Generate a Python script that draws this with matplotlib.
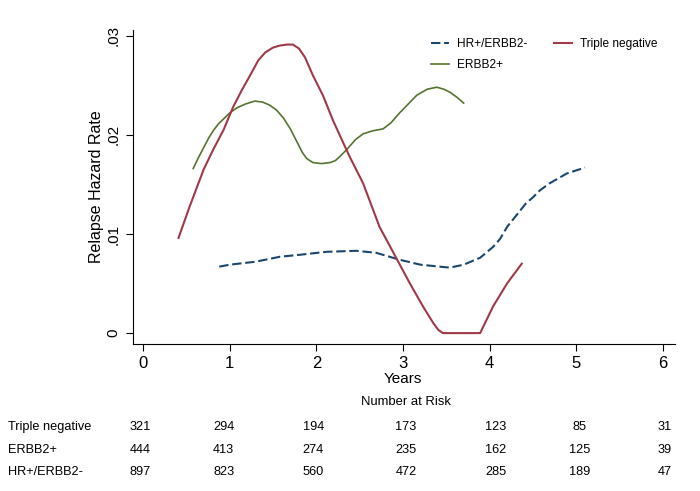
import numpy as np
import matplotlib
matplotlib.use("Agg")
import matplotlib.pyplot as plt
from matplotlib.transforms import blended_transform_factory, ScaledTranslation

plt.rcParams['font.family'] = ['Liberation Sans', 'DejaVu Sans']

# smoothed hazard curves
hr_years = [0.88, 1.00, 1.30, 1.58, 1.81, 2.12, 2.46, 2.69, 2.96, 3.20, 3.54, 3.70, 3.89, 4.04, 4.12, 4.20,
            4.31, 4.42, 4.50, 4.58, 4.69, 4.89, 5.10]
hr_rate = [0.0067, 0.0069, 0.0072, 0.0077, 0.0079, 0.0082, 0.0083, 0.0081, 0.0074, 0.0069, 0.0066, 0.0069,
           0.0076, 0.0087, 0.0095, 0.0107, 0.0119, 0.0131, 0.0137, 0.0144, 0.0151, 0.0161, 0.0167]

erbb2_years = [0.58, 0.64, 0.70, 0.76, 0.81, 0.87, 0.93, 1.00, 1.08, 1.18, 1.29, 1.38, 1.46, 1.54, 1.62, 1.70,
               1.77, 1.84, 1.89, 1.96, 2.06, 2.16, 2.22, 2.27, 2.35, 2.45, 2.54, 2.65, 2.77, 2.86, 2.96, 3.06,
               3.16, 3.28, 3.39, 3.47, 3.54, 3.62, 3.70]
erbb2_rate = [0.0166, 0.0177, 0.0187, 0.0197, 0.0204, 0.0211, 0.0216, 0.0222, 0.0227, 0.0231, 0.0234, 0.0233,
              0.0230, 0.0225, 0.0217, 0.0206, 0.0194, 0.0182, 0.0176, 0.0172, 0.0171, 0.0172, 0.0174, 0.0178,
              0.0185, 0.0195, 0.0201, 0.0204, 0.0206, 0.0212, 0.0222, 0.0231, 0.0240, 0.0246, 0.0248, 0.0246,
              0.0243, 0.0238, 0.0232]

tn_years = [0.41, 0.54, 0.70, 0.81, 0.93, 1.04, 1.14, 1.23, 1.33, 1.41, 1.50, 1.58, 1.66, 1.73, 1.80, 1.87,
            1.96, 2.08, 2.19, 2.31, 2.39, 2.54, 2.73, 2.89, 3.08, 3.23, 3.35, 3.41, 3.46, 3.89, 4.04, 4.20, 4.37]
tn_rate = [0.0096, 0.0128, 0.0165, 0.0185, 0.0205, 0.0228, 0.0245, 0.0259, 0.0275, 0.0283, 0.0288, 0.0290,
           0.0291, 0.0291, 0.0287, 0.0278, 0.0260, 0.0239, 0.0215, 0.0192, 0.0177, 0.0151, 0.0107, 0.0081,
           0.0050, 0.0027, 0.0010, 0.0003, 0.0000, 0.0000, 0.0027, 0.0050, 0.0070]

# number at risk table
risk_times = [0, 1, 2, 3, 4, 5, 6]
risk_groups = ["Triple negative", "ERBB2+", "HR+/ERBB2-"]
risk_tn = [321, 294, 194, 173, 123, 85, 31]
risk_erbb2 = [444, 413, 274, 235, 162, 125, 39]
risk_hr = [897, 823, 560, 472, 285, 189, 47]

# small pixel nudges of the table columns relative to the ticks (layout only)
col_nudge_px = [-3, -6, -3, 3, 6, 3, 2]
row_y_px = [427, 450, 472]

navy = "#1a476f"
green = "#55752f"
maroon = "#a03a48"

fig = plt.figure(figsize=(7, 4.91), dpi=100)
ax = fig.add_axes([133 / 700, 1 - 344 / 491, 542 / 700, 314 / 491])

ax.plot(hr_years, hr_rate, color=navy, lw=1.5, dashes=(4.5, 1.8), label="HR+/ERBB2-")
ax.plot(erbb2_years, erbb2_rate, color=green, lw=1.2, label="ERBB2+")
ax.plot(tn_years, tn_rate, color=maroon, lw=1.5, label="Triple negative")

ax.set_xlim(-0.115, 6.138)
ax.set_ylim(-0.0011, 0.03057)
ax.set_xticks(risk_times)
ax.set_xticklabels([str(t) for t in risk_times], fontsize=12)
ax.set_yticks([0, 0.01, 0.02, 0.03])
ax.set_yticklabels(["0", ".01", ".02", ".03"], fontsize=11, rotation=90, va="center")
for s in ["top", "right"]:
    ax.spines[s].set_visible(False)
ax.tick_params(direction="out", length=5, width=0.8)
ax.tick_params(axis="x", pad=3.5)
ax.tick_params(axis="y", pad=4)
ax.set_xlabel("Years", fontsize=11, va="baseline")
ax.xaxis.set_label_coords(0.498, (344 - 383) / 314)
ax.set_ylabel("Relapse Hazard Rate", fontsize=11.5, labelpad=2)

ax.legend(loc="upper left", bbox_to_anchor=(431 / 700, 1 - 38 / 491), bbox_transform=fig.transFigure,
          ncol=2, frameon=False, fontsize=8.6, handlelength=1.5, handletextpad=0.65,
          columnspacing=2.25, labelspacing=0.75, borderpad=0, borderaxespad=0)

# risk table below the axes
fig.text(406 / 700, 1 - 402 / 491, "Number at Risk", fontsize=9.4, ha="center", va="center")
base = blended_transform_factory(ax.transData, fig.transFigure)
rows = [risk_tn, risk_erbb2, risk_hr]
for name, vals, yp in zip(risk_groups, rows, row_y_px):
    fig.text(8 / 700, 1 - yp / 491, name, fontsize=9.2, ha="left", va="center")
    for t, v, dx in zip(risk_times, vals, col_nudge_px):
        tr = base + ScaledTranslation(dx / 100, 0, fig.dpi_scale_trans)
        ax.text(t, 1 - yp / 491, str(v), transform=tr, fontsize=9.2, ha="center", va="center")

fig.savefig("out.png", dpi=100, facecolor="white")
